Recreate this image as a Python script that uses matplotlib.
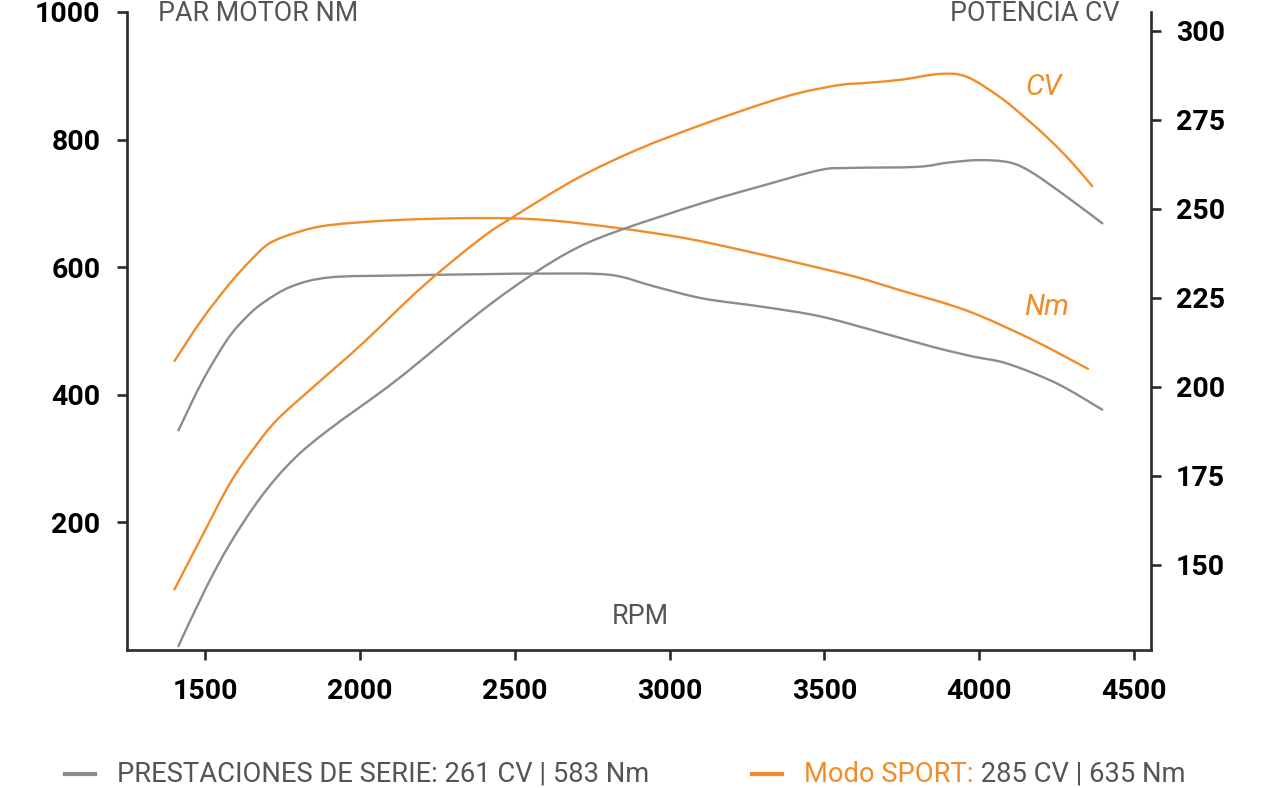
import matplotlib
matplotlib.use("Agg")
import matplotlib.pyplot as plt
from matplotlib.lines import Line2D
from matplotlib.path import Path
from matplotlib.patches import PathPatch

plt.rcParams['font.family'] = ['Roboto', 'DejaVu Sans']

# ---------------- data ----------------
rpm_serie_nm = [1413, 1490, 1571, 1630, 1687, 1780, 1903, 2120, 2388, 2600, 2808, 2950, 3108, 3300, 3486, 3680, 3851, 3980, 4090, 4250, 4400]
nm_serie = [343, 420, 486, 520, 544, 570, 584, 587, 589, 590, 588, 570, 551, 538, 523, 498, 475, 460, 449, 418, 376]

rpm_sport_nm = [1400, 1490, 1581, 1650, 1710, 1800, 1903, 2120, 2388, 2600, 2840, 3056, 3250, 3421, 3600, 3744, 3960, 4173, 4354]
nm_sport = [452, 518, 575, 612, 638, 655, 666, 674, 677, 674, 661, 645, 625, 606, 585, 564, 532, 486, 440]

rpm_serie_cv = [1413, 1500, 1581, 1680, 1784, 1900, 2120, 2388, 2559, 2700, 2840, 3108, 3300, 3486, 3582, 3799, 3900, 4002, 4100, 4173, 4283, 4400]
cv_serie = [127, 143, 156, 169, 179.5, 188, 202, 221, 231.7, 239, 244, 251.7, 256.5, 260.9, 261.5, 261.8, 263, 263.7, 263, 260.1, 253.4, 245.8]

rpm_sport_cv = [1400, 1490, 1581, 1660, 1732, 1850, 2010, 2200, 2388, 2500, 2700, 2895, 3100, 3300, 3421, 3550, 3637, 3750, 3873, 3960, 4067, 4150, 4228, 4300, 4367]
cv_sport = [142.9, 158, 173, 183, 190.7, 200, 212.3, 228, 241.5, 248, 258.5, 266.6, 273.5, 279.5, 282.6, 284.8, 285.4, 286.3, 287.9, 287.1, 281.4, 275.5, 269.4, 263, 256.2]

nm_ticks = [200, 400, 600, 800, 1000]
cv_ticks = [150, 175, 200, 225, 250, 275, 300]
rpm_ticks = [1500, 2000, 2500, 3000, 3500, 4000, 4500]

legend_serie = "PRESTACIONES DE SERIE: 261 CV | 583 Nm"
legend_sport_a = "Modo SPORT:"
legend_sport_b = " 285 CV | 635 Nm"

# ---------------- style ----------------
ORANGE = "#F28C28"
GRAY = "#8C8C8C"
TXT = "#555555"
SPINE = "#2b2b2b"


def smooth_path(xs, ys):
    """Catmull-Rom curve through the data points, as cubic Bezier segments."""
    verts = [(xs[0], ys[0])]
    codes = [Path.MOVETO]
    n = len(xs)
    for i in range(n - 1):
        x0, y0 = (xs[i - 1], ys[i - 1]) if i > 0 else (xs[i], ys[i])
        x1, y1 = xs[i], ys[i]
        x2, y2 = xs[i + 1], ys[i + 1]
        x3, y3 = (xs[i + 2], ys[i + 2]) if i + 2 < n else (x2, y2)
        c1 = (x1 + (x2 - x0) / 6.0, y1 + (y2 - y0) / 6.0)
        c2 = (x2 - (x3 - x1) / 6.0, y2 - (y3 - y1) / 6.0)
        verts += [c1, c2, (x2, y2)]
        codes += [Path.CURVE4] * 3
    return Path(verts, codes)


W, H = 1280, 788
fig = plt.figure(figsize=(W / 100, H / 100), dpi=100)
ax = fig.add_axes([127 / W, 1 - 650 / H, (1151 - 127) / W, (650 - 12) / H])
ax2 = ax.twinx()

ax.set_xlim(1248, 4555)
ax.set_ylim(0, 1000)
ax2.set_ylim(126.1, 305.3)

lw = 1.7
for a, xs, ys, c in ((ax, rpm_serie_nm, nm_serie, GRAY),
                     (ax, rpm_sport_nm, nm_sport, ORANGE),
                     (ax2, rpm_serie_cv, cv_serie, GRAY),
                     (ax2, rpm_sport_cv, cv_sport, ORANGE)):
    a.add_patch(PathPatch(smooth_path(xs, ys), fill=False, edgecolor=c, lw=lw,
                          capstyle='butt', joinstyle='round'))

for a in (ax, ax2):
    a.spines['top'].set_visible(False)
    for s in ('left', 'right', 'bottom'):
        a.spines[s].set_color(SPINE)
        a.spines[s].set_linewidth(1.9)
ax.spines['right'].set_visible(False)
ax2.spines['left'].set_visible(False)
ax2.spines['bottom'].set_visible(False)

ax.set_yticks(nm_ticks)
ax.set_yticklabels([str(v) for v in nm_ticks])
ax2.set_yticks(cv_ticks)
ax2.set_yticklabels([str(v) for v in cv_ticks])
ax.set_xticks(rpm_ticks)
ax.set_xticklabels([str(v) for v in rpm_ticks])

FS_T = 20.5
ax.tick_params(axis='y', direction='out', length=7, width=1.9, color=SPINE, pad=12,
               labelsize=FS_T, labelcolor='black')
ax2.tick_params(axis='y', direction='out', length=7, width=1.9, color=SPINE, pad=11,
                labelsize=FS_T, labelcolor='black')
ax.tick_params(axis='x', direction='out', length=7, width=1.9, color=SPINE, pad=13,
               labelsize=FS_T, labelcolor='black')
for lab in ax.get_yticklabels() + ax.get_xticklabels() + ax2.get_yticklabels():
    lab.set_fontweight('bold')

FS = 19.4
# axis titles
fig.text(158 / W, 1 - 21 / H, "PAR MOTOR NM", color=TXT, fontsize=FS, ha='left', va='baseline')
fig.text(1120 / W, 1 - 21 / H, "POTENCIA CV", color=TXT, fontsize=FS, ha='right', va='baseline')
fig.text(640 / W, 1 - 616 / H, "RPM", color=TXT, fontsize=FS, ha='center', va='center')

# curve labels
fig.text(1044 / W, 1 - 87 / H, "CV", color=ORANGE, fontsize=21, style='italic', ha='center', va='center')
fig.text(1047 / W, 1 - 307 / H, "Nm", color=ORANGE, fontsize=21, style='italic', ha='center', va='center')

# legend
FS_L = 19.7
ly = 1 - 774 / H
fig.add_artist(Line2D([65 / W, 95 / W], [ly, ly], transform=fig.transFigure, color=GRAY, lw=3))
fig.text(117 / W, ly, legend_serie, color=TXT, fontsize=FS_L, ha='left', va='center')
fig.add_artist(Line2D([752 / W, 782 / W], [ly, ly], transform=fig.transFigure, color=ORANGE, lw=3))
t1 = fig.text(804 / W, ly, legend_sport_a, color=ORANGE, fontsize=FS_L, ha='left', va='center')
ax.annotate(legend_sport_b, xy=(1, 0.5), xycoords=t1, color=TXT, fontsize=FS_L,
            ha='left', va='center', annotation_clip=False)

fig.savefig("out.png", dpi=100)
